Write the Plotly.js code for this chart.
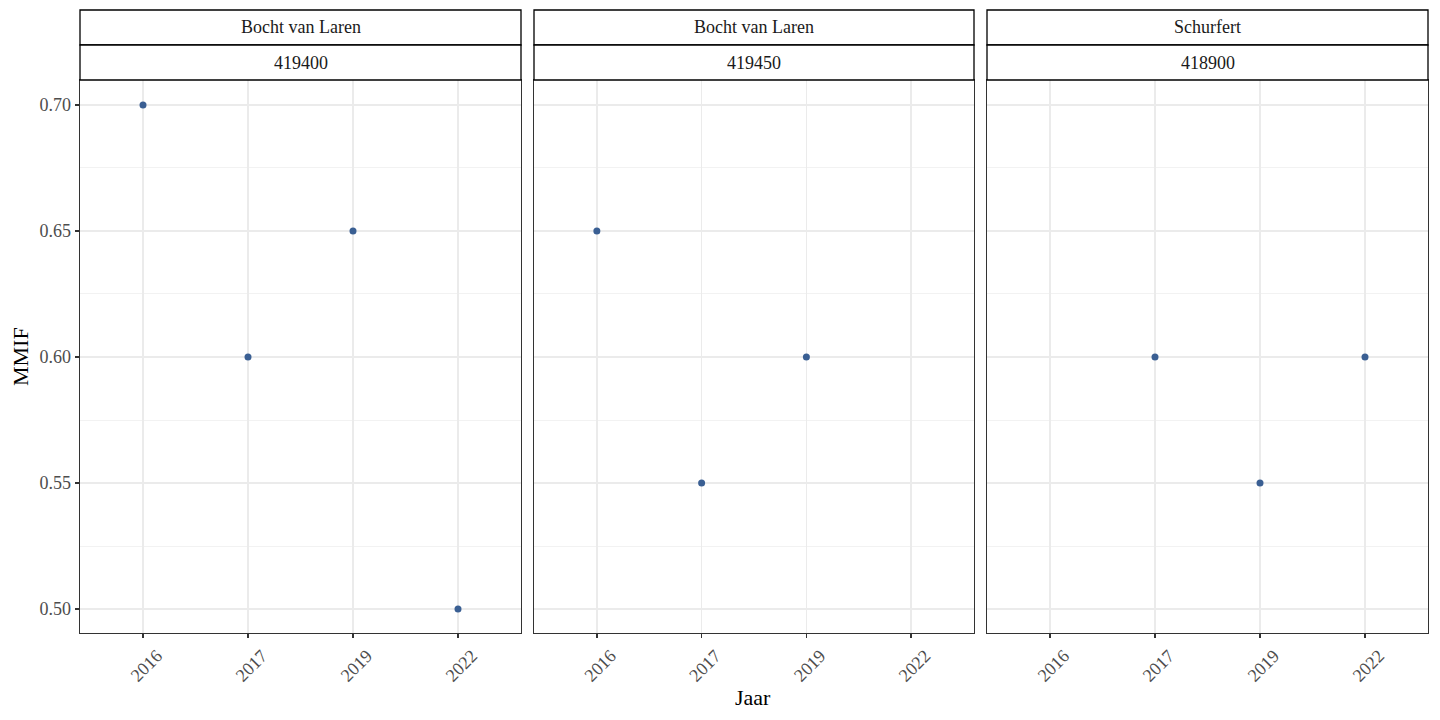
<!DOCTYPE html>
<html><head><meta charset="utf-8">
<script src="https://cdn.plot.ly/plotly-3.0.1.min.js"></script>
<style>html,body{margin:0;padding:0;background:#fff}</style>
</head><body><div id="chart" style="width:1440px;height:720px"></div>
<script>
const years = ["2016", "2017", "2019", "2022"];
const stripTop = ["Bocht van Laren", "Bocht van Laren", "Schurfert"];
const stripBottom = ["419400", "419450", "418900"];
const panelX = [
  ["2016", "2017", "2019", "2022"],
  ["2016", "2017", "2019"],
  ["2017", "2019", "2022"]
];
const panelY = [
  [0.70, 0.60, 0.65, 0.50],
  [0.65, 0.55, 0.60],
  [0.60, 0.55, 0.60]
];

const W = 1440, H = 720;
const panelsPx = [[80, 521], [534, 974], [987, 1428]];
const plotTop = 80, plotBottom = 633;
const font = "Liberation Serif, Times New Roman, serif";
const pointColor = "#3a5f93";

const traces = [];
const layout = {
  width: W, height: H,
  margin: {l: 0, r: 0, t: 0, b: 0},
  paper_bgcolor: "#fff", plot_bgcolor: "#fff",
  showlegend: false,
  font: {family: font, size: 18, color: "#4d4d4d"},
  shapes: [], annotations: []
};

panelsPx.forEach((px, i) => {
  const n = i === 0 ? "" : String(i + 1);
  traces.push({
    type: "scatter", mode: "markers",
    x: panelX[i], y: panelY[i],
    xaxis: "x" + n, yaxis: "y" + n,
    marker: {color: pointColor, size: 7},
    hoverinfo: "x+y"
  });
  layout["xaxis" + n] = {
    domain: [px[0] / W, px[1] / W],
    anchor: "y" + n,
    type: "category",
    categoryorder: "array", categoryarray: years,
    tickvals: years,
    range: [-0.6, 3.6],
    showgrid: true, gridcolor: "#ebebeb", gridwidth: 1.3,
    zeroline: false,
    showline: true, mirror: true, linecolor: "#333333", linewidth: 1.3,
    ticks: "outside", ticklen: 4, tickwidth: 1.3, tickcolor: "#333333",
    tickangle: -45,
    ticklabelshift: 14,
    ticklabelstandoff: 0,
    tickfont: {family: font, size: 18, color: "#4d4d4d"}
  };
  layout["yaxis" + n] = {
    domain: [1 - plotBottom / H, 1 - plotTop / H],
    anchor: "x" + n,
    range: [0.4905, 0.7099],
    tick0: 0.5, dtick: 0.05, tickformat: ".2f",
    showgrid: true, gridcolor: "#ebebeb", gridwidth: 1.3,
    minor: {dtick: 0.025, tick0: 0.5, showgrid: true, gridcolor: "#ebebeb", gridwidth: 0.65, ticks: ""},
    zeroline: false,
    showline: true, mirror: true, linecolor: "#333333", linewidth: 1.3,
    ticks: i === 0 ? "outside" : "", ticklen: 4, tickwidth: 1.3, tickcolor: "#333333",
    showticklabels: i === 0,
    tickfont: {family: font, size: 18, color: "#4d4d4d"}
  };
  // strips
  [[10, 45, stripTop[i]], [45, 80, stripBottom[i]]].forEach(([t, b, txt]) => {
    layout.shapes.push({
      type: "rect", xref: "paper", yref: "paper",
      x0: px[0] / W, x1: px[1] / W, y0: 1 - b / H, y1: 1 - t / H,
      line: {color: "#000", width: 1.3}, fillcolor: "#fff", layer: "above"
    });
    layout.annotations.push({
      xref: "paper", yref: "paper",
      x: (px[0] + px[1]) / 2 / W, y: 1 - (t + b) / 2 / H,
      xanchor: "center", yanchor: "middle", showarrow: false,
      text: txt, font: {family: font, size: 18, color: "#1a1a1a"}
    });
  });
});

layout.annotations.push({
  xref: "paper", yref: "paper",
  x: 753 / W, y: 1 - 697 / H, xanchor: "center", yanchor: "middle",
  showarrow: false, text: "Jaar",
  font: {family: font, size: 22, color: "#000"}
});
layout.annotations.push({
  xref: "paper", yref: "paper",
  x: 20 / W, y: 1 - 357 / H, xanchor: "center", yanchor: "middle",
  showarrow: false, text: "MMIF", textangle: -90,
  font: {family: font, size: 22, color: "#000"}
});

Plotly.newPlot("chart", traces, layout, {displayModeBar: false, staticPlot: true});
</script></body></html>
